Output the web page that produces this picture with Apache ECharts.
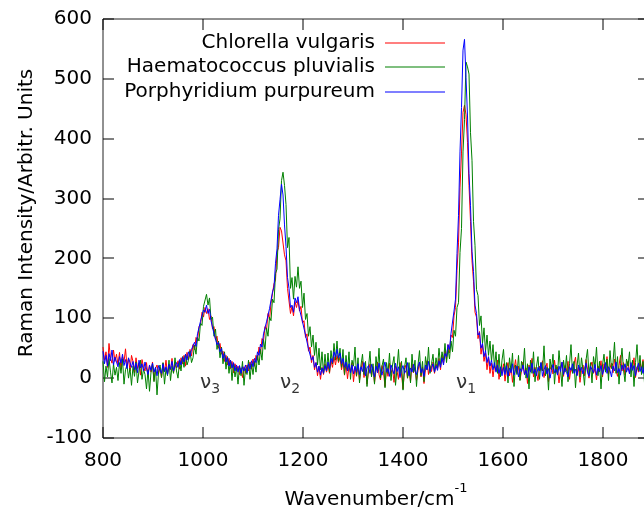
<!DOCTYPE html>
<html>
<head>
<meta charset="utf-8">
<script src="https://cdn.jsdelivr.net/npm/echarts@6/dist/echarts.min.js"></script>
<style>
  html, body { margin: 0; padding: 0; background: #ffffff; }
  #chart { width: 644px; height: 511px; }
</style>
</head>
<body>
<div id="chart"></div>
<script>
// Raman spectra of three microalgae, sampled every 3 cm-1 from 800 cm-1
const seriesNames = ['Chlorella vulgaris', 'Haematococcus pluvialis', 'Porphyridium purpureum'];
const wnStart = 800;
const wnStep = 3;

const chlorella = [
  52, 30, 44, 18, 58, 33, 25, 47, 28, 40,
  22, 43, 15, 36, 27, 49, 20, 33, 12, 38,
  28, 9, 34, 16, 25, 5, 31, 19, 12, 26,
  3, 21, 10, 27, -4, 16, 22, 7, 18, 1,
  25, 11, 30, 6, 20, 14, 33, 9, 24, 17,
  29, 15, 34, 24, 38, 20, 43, 31, 48, 37,
  56, 47, 68, 62, 86, 90, 110, 102, 118, 108,
  116, 98, 104, 82, 86, 64, 70, 50, 58, 40,
  45, 28, 38, 22, 33, 16, 28, 9, 24, 12,
  20, 6, 17, 1, 19, 8, 22, 12, 27, 15,
  32, 20, 38, 30, 52, 41, 66, 62, 86, 80,
  108, 98, 125, 122, 158, 164, 210, 218, 252, 246,
  244, 206, 196, 150, 148, 108, 120, 104, 128, 118,
  130, 112, 120, 92, 96, 68, 74, 45, 52, 26,
  38, 14, 26, 4, 20, -2, 18, 6, 24, 10,
  22, 8, 29, 18, 36, 22, 38, 26, 35, 14,
  28, 5, 24, -1, 20, 10, 26, -6, 18, 3,
  22, -4, 15, 28, 1, 18, -10, 12, 24, 4,
  19, -8, 14, 27, 6, -3, 21, 10, -14, 16,
  3, 25, 8, 17, -7, 20, 12, -2, 26, 7,
  -18, 14, 22, 0, 16, -6, 24, 9, 18, -4,
  13, 26, 2, 19, -9, 15, 29, 6, 21, 11,
  27, 8, 24, 16, 33, 14, 38, 25, 46, 31,
  56, 42, 72, 68, 104, 118, 180, 226, 318, 376,
  444, 456, 440, 394, 322, 262, 196, 162, 110, 102,
  66, 78, 40, 56, 28, 42, 14, 34, 8, 25,
  2, 21, 12, 30, -2, 17, 9, 24, -5, 15,
  26, 4, 19, -7, 14, 31, 8, 20, -3, 12,
  27, 6, 17, -9, 22, 11, 33, 2, 18, 9,
  -4, 20, 13, 29, 1, 16, 25, -6, 14, 22,
  7, 30, 10, 19, -8, 15, 26, 3, 21, 12,
  28, -2, 17, 9, 24, 35, 5, 18, -7, 13,
  22, 4, 31, 14, 0, 19, 27, 8, 16, -3,
  20, 11, 29, 2, 24, 13, 36, 6, 17, 25,
  9, 32, 14, 3, 21, 38, 12, 26, 5, 18,
  28, 8, 22, 15, 34, 1, 19, 10, 27, 14,
  31, 6, 17, 22
];

const haematococcus = [
  28, -6, 20, 2, 33, 10, -8, 24, 5, 18,
  -4, 26, 8, 32, -10, 14, 22, 0, 17, -12,
  20, 3, 27, -8, 12, 30, -2, 15, 6, -18,
  14, -22, 10, 24, -6, 18, -28, 9, 22, 1,
  26, -10, 16, 4, 30, -4, 20, 8, 34, 12,
  0, 28, 12, 36, 18, 40, 22, 30, 45, 26,
  34, 55, 40, 68, 62, 92, 88, 120, 118, 140,
  122, 134, 98, 102, 70, 82, 48, 62, 34, 52,
  24, 44, 15, 36, 8, 30, -4, 24, 2, 18,
  -10, 20, 4, 28, -12, 16, 6, 30, -2, 24,
  6, 28, 10, 38, 22, 48, 30, 64, 48, 84,
  70, 102, 96, 132, 126, 175, 182, 248, 266, 330,
  344, 322, 290, 218, 235, 150, 168, 132, 170, 152,
  186, 150, 162, 118, 142, 98, 108, 70, 86, 52,
  72, 38, 60, 22, 50, 14, 44, 8, 40, 12,
  42, 10, 46, 24, 58, 30, 62, 28, 50, 18,
  48, 6, 38, 12, 44, -2, 30, 20, 52, 4,
  34, -8, 22, 40, 6, 28, -14, 18, 45, 2,
  24, -10, 36, 12, 50, 0, 20, 32, -16, 26,
  8, 42, -4, 22, 36, -12, 16, 48, 4, 28,
  -20, 18, 34, 0, 26, -8, 40, 10, 30, -14,
  22, 46, 4, 28, -6, 36, 14, 52, 8, 24,
  40, 10, 34, 18, 50, 22, 44, 30, 58, 26,
  50, 32, 62, 44, 80, 70, 118, 126, 210, 250,
  378, 432, 528, 520, 508, 410, 364, 262, 222, 148,
  138, 88, 104, 58, 84, 44, 72, 38, 62, 28,
  56, 18, 44, 8, 40, 2, 30, 48, 10, 26,
  -8, 34, 12, 42, -14, 22, 6, 38, -4, 28,
  16, 50, 0, 24, -18, 30, 8, 44, -6, 20,
  36, -2, 26, 12, 54, 4, 18, -20, 32, 14,
  40, -10, 22, 6, 46, 16, -14, 30, 10, 38,
  -6, 24, 56, 8, 28, -16, 20, 42, 2, 34,
  14, -12, 30, 48, 6, 26, -8, 36, 18, 52,
  4, 28, -18, 22, 40, 10, 32, -4, 46, 16,
  26, 60, 8, 36, -10, 24, 50, 14, -6, 32,
  20, 44, 2, 30, -14, 26, 56, 12, 38, 6,
  28, -8, 34, 18
];

const porphyridium = [
  45, 24, 38, 20, 41, 29, 47, 22, 35, 27,
  19, 36, 25, 40, 21, 31, 16, 34, 26, 18,
  28, 14, 25, 9, 30, 17, 24, 12, 27, 15,
  6, 22, 13, 25, 10, 18, 4, 21, 14, 8,
  24, 11, 19, 6, 23, 15, 28, 12, 20, 26,
  18, 31, 22, 35, 27, 40, 30, 44, 36, 48,
  45, 60, 53, 74, 72, 95, 98, 114, 110, 122,
  108, 115, 96, 94, 74, 76, 56, 60, 44, 50,
  33, 41, 27, 35, 20, 30, 17, 26, 12, 22,
  10, 21, 8, 19, 12, 22, 9, 24, 15, 29,
  19, 33, 26, 44, 38, 57, 52, 74, 72, 94,
  96, 116, 118, 144, 152, 192, 216, 272, 298, 324,
  306, 256, 220, 168, 150, 118, 122, 110, 134, 126,
  136, 115, 118, 94, 92, 72, 70, 49, 50, 30,
  36, 18, 26, 10, 20, 5, 17, 8, 21, 12,
  27, 16, 33, 26, 44, 35, 48, 34, 42, 24,
  33, 18, 27, 12, 24, 9, 22, 7, 20, 10,
  24, 6, 19, 11, 26, 4, 17, 21, 8, 23,
  13, 2, 20, 9, 25, 12, 5, 18, 27, 10,
  16, 3, 22, 14, 7, 25, 11, 19, 1, 15,
  21, 8, 13, 26, 4, 17, 10, 23, 12, 6,
  19, 27, 9, 16, 3, 22, 14, 28, 11, 18,
  24, 10, 21, 13, 29, 18, 34, 22, 41, 36,
  56, 48, 75, 74, 112, 132, 208, 272, 378, 452,
  548, 566, 502, 438, 342, 288, 212, 178, 122, 108,
  72, 76, 50, 58, 36, 46, 26, 36, 20, 30,
  14, 26, 10, 22, 8, 19, 4, 18, 6, 21,
  3, 17, 9, 24, 5, 14, 20, 2, 16, 11,
  22, 6, 13, 1, 19, 10, 25, 8, 15, 4,
  18, 12, 26, 3, 14, 21, 7, 16, 0, 13,
  23, 9, 15, 5, 20, 11, 27, 6, 17, 10,
  2, 19, 13, 24, 8, 15, 4, 22, 12, 18,
  7, 16, 25, 10, 3, 20, 14, 9, 23, 5,
  17, 11, 21, 6, 15, 26, 8, 19, 13, 2,
  20, 12, 27, 9, 16, 5, 22, 14, 24, 10,
  18, 7, 26, 13, 21, 4, 17, 25, 11, 19,
  8, 22, 14, 20
];

// band annotations (nu_3, nu_2, nu_1) placed under the peaks
const bandWavenumbers = [1014, 1174, 1526];
const bandIndices = ['3', '2', '1'];
const bandLevel = -8;

const xTicks = [800, 1000, 1200, 1400, 1600, 1800];
const yTicks = [-100, 0, 100, 200, 300, 400, 500, 600];

const colors = ['#ff0000', '#008000', '#0000ff'];
const FONT = 'DejaVu Sans';
const FS = 20;
const TICK_LEN = 11;
const TICK_COLOR = '#000';

function toPairs(values) {
  return values.map((v, i) => [wnStart + i * wnStep, v]);
}

const xMin = 800, xMax = 1892;
const yMin = -100, yMax = 600;

function hiddenLine() {
  return { show: false, onZero: false };
}

// inward tick marks on all four sides of the frame, placed through the axis scales
function renderXTick(params, api) {
  const cs = params.coordSys;
  const x = Math.round(api.coord([api.value(0), api.value(1)])[0]);
  const style = { stroke: TICK_COLOR, lineWidth: 1 };
  return {
    type: 'group',
    children: [
      { type: 'line', shape: { x1: x, y1: cs.y + cs.height, x2: x, y2: cs.y + cs.height - TICK_LEN }, style },
      { type: 'line', shape: { x1: x, y1: cs.y, x2: x, y2: cs.y + TICK_LEN }, style }
    ]
  };
}
function renderYTick(params, api) {
  const cs = params.coordSys;
  const y = Math.round(api.coord([api.value(0), api.value(1)])[1]);
  const style = { stroke: TICK_COLOR, lineWidth: 1 };
  return {
    type: 'group',
    children: [
      { type: 'line', shape: { x1: cs.x, y1: y, x2: cs.x + TICK_LEN, y2: y }, style },
      { type: 'line', shape: { x1: cs.x + cs.width, y1: y, x2: cs.x + cs.width - TICK_LEN, y2: y }, style }
    ]
  };
}

const chart = echarts.init(document.getElementById('chart'), null, { renderer: 'canvas' });

const legendTops = [33, 57, 82];

const spectra = [chlorella, haematococcus, porphyridium].map((vals, i) => ({
  type: 'line',
  name: seriesNames[i],
  data: toPairs(vals),
  xAxisIndex: 0,
  yAxisIndex: 0,
  showSymbol: false,
  symbol: 'none',
  color: colors[i],
  lineStyle: { color: colors[i], width: 1 },
  z: 3 + i
}));

chart.setOption({
  animation: false,
  backgroundColor: '#ffffff',
  grid: {
    left: 103, top: 19, width: 546, height: 419,
    outerBoundsMode: 'none',
    show: true, borderColor: '#222', borderWidth: 1, backgroundColor: 'transparent'
  },
  xAxis: [
    {
      type: 'value', position: 'bottom', min: xMin, max: xMax, interval: 200,
      axisLine: hiddenLine(),
      axisTick: { show: false },
      splitLine: { show: false },
      axisLabel: {
        fontFamily: FONT, fontSize: FS, color: '#000', margin: 13,
        formatter: v => (xTicks.indexOf(v) >= 0 ? String(v) : '')
      },
      name: '{b|Wavenumber/cm}{s|-1}',
      nameLocation: 'middle',
      nameGap: 44,
      nameTextStyle: {
        rich: {
          b: { fontFamily: FONT, fontSize: FS, color: '#000', verticalAlign: 'bottom', lineHeight: 28 },
          s: { fontFamily: FONT, fontSize: 13, color: '#000', verticalAlign: 'top', lineHeight: 28 }
        }
      }
    }
  ],
  yAxis: [
    {
      type: 'value', position: 'left', min: yMin, max: yMax, interval: 100,
      axisLine: hiddenLine(),
      axisTick: { show: false },
      splitLine: { show: false },
      axisLabel: {
        fontFamily: FONT, fontSize: FS, color: '#000', margin: 11,
        formatter: v => (yTicks.indexOf(v) >= 0 ? String(v) : '')
      }
    }
  ],
  legend: seriesNames.map((name, i) => ({
    data: [name],
    orient: 'vertical',
    right: 199,
    top: legendTops[i],
    align: 'right',
    padding: 0,
    icon: 'rect',
    itemWidth: 60,
    itemHeight: 1,
    selectedMode: false,
    textStyle: { fontFamily: FONT, fontSize: FS, color: '#000', padding: [0, 5, 0, 0], lineHeight: 20 }
  })),
  series: [
    {
      type: 'custom',
      name: 'xTicks',
      silent: true,
      clip: false,
      z: 1,
      data: xTicks.map(v => [v, yMin]),
      renderItem: renderXTick
    },
    {
      type: 'custom',
      name: 'yTicks',
      silent: true,
      clip: false,
      z: 1,
      data: yTicks.map(v => [xMin, v]),
      renderItem: renderYTick
    }
  ].concat(spectra).concat([{
    type: 'scatter',
    name: 'bands',
    xAxisIndex: 0,
    yAxisIndex: 0,
    symbolSize: 0,
    silent: true,
    data: bandWavenumbers.map((w, i) => ({ value: [w, bandLevel], sub: bandIndices[i] })),
    label: {
      show: true,
      position: 'inside',
      formatter: p => '{n|ν}{i|' + p.data.sub + '}',
      rich: {
        n: { fontFamily: FONT, fontSize: FS, color: '#000', verticalAlign: 'middle', lineHeight: 26 },
        i: { fontFamily: FONT, fontSize: 14, color: '#000', verticalAlign: 'bottom', lineHeight: 26 }
      }
    },
    z: 10
  }]),
  graphic: [{
    type: 'text',
    x: 27,
    y: 213,
    rotation: Math.PI / 2,
    style: {
      text: 'Raman Intensity/Arbitr. Units',
      fontFamily: FONT,
      fontSize: FS,
      fill: '#000',
      align: 'center',
      verticalAlign: 'middle'
    }
  }]
});
</script>
</body>
</html>
